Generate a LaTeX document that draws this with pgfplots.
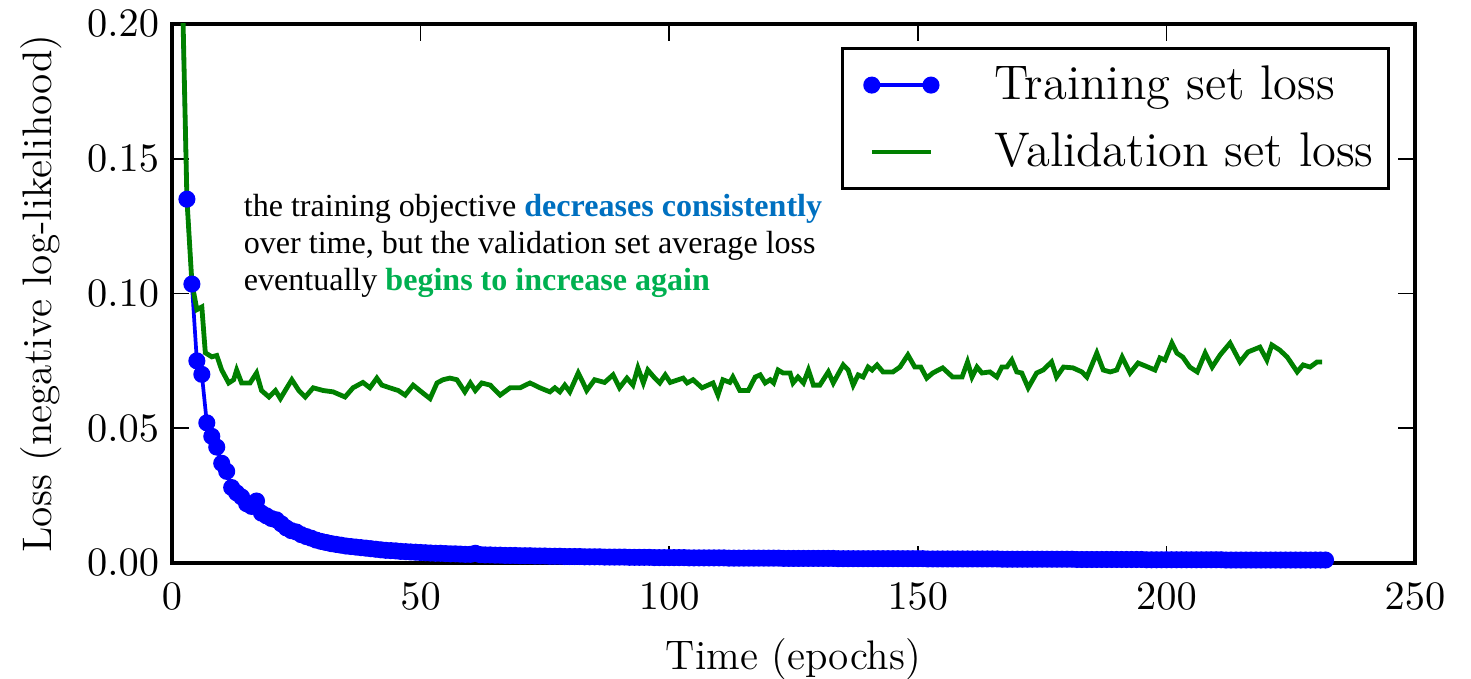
\documentclass[border=0pt]{standalone}
\usepackage{fontspec}
\usepackage{pgfplots}
\pgfplotsset{compat=1.18}
\newfontfamily\timesfont{Liberation Serif}
\definecolor{mplblue}{rgb}{0,0,1}
\definecolor{mplgreen}{rgb}{0,0.5,0}
\definecolor{annblue}{RGB}{0,112,192}
\definecolor{anngreen}{RGB}{0,176,80}
\pgfplotsset{
  trainleg/.style={legend image code/.code={\path (0bp,0bp) (35.8bp,0bp); \draw[##1, mark repeat=1, mark phase=1] plot coordinates {(5.3bp,0bp) (21.3bp,0bp)};}},
  valleg/.style={legend image code/.code={\path (0bp,0bp) (35.8bp,0bp); \draw[##1] (5.3bp,0bp) -- (21.3bp,0bp);}},
}
\begin{document}
\begin{tikzpicture}[x=1bp,y=1bp]
\useasboundingbox (-46.49,-31.35) rectangle (351.08,152.16);
\begin{axis}[
  at={(0,0)}, anchor=south west,
  scale only axis, width=335.95bp, height=145.68bp,
  xmin=0, xmax=250, ymin=0, ymax=0.2,
  xtick={0,50,100,150,200,250},
  ytick={0,0.05,0.1,0.15,0.2},
  scaled y ticks=false,
  yticklabel style={/pgf/number format/.cd,fixed,fixed zerofill,precision=2},
  tick align=inside,
  major tick length=4.5bp,
  every tick/.style={black, line width=0.45bp},
  axis line style={black, line width=1.1bp},
  tick label style={font=\fontsize{11}{13}\selectfont},
  xticklabel style={yshift=-2bp},
  label style={font=\fontsize{11.2}{13.4}\selectfont},
  xlabel style={yshift=-1bp},
  xlabel={Time (epochs)},
  ylabel={Loss (negative log-likelihood)},
  legend style={at={(0.98,0.957)}, anchor=north east, draw=black, line width=0.9bp,
    font=\fontsize{13.2}{15.8}\selectfont, inner xsep=2bp, inner ysep=2.5bp,
    row sep=3.5bp, cells={anchor=west}},
  legend cell align=left,
]
\addplot[mplblue, line width=1.0bp, mark=*, mark size=1.8bp,
  mark options={solid, fill=mplblue, draw=mplblue}, trainleg]
  table[row sep=\\] {
x y\\
1 0.35\\ 2 0.216\\ 3 0.135\\ 4 0.1035\\ 5 0.075\\ 6 0.070\\ 7 0.052\\ 8 0.047\\ 9 0.043\\ 10 0.037\\
11 0.034\\ 12 0.028\\ 13 0.026\\ 14 0.0245\\ 15 0.022\\ 16 0.021\\ 17 0.023\\ 18 0.0185\\ 19 0.0175\\ 20 0.0165\\
21 0.016\\ 22 0.0145\\ 23 0.013\\ 24 0.012\\ 25 0.0115\\ 26 0.0105\\ 27 0.0098\\ 28 0.0092\\ 29 0.0085\\ 30 0.0080\\
31 0.0076\\ 32 0.0072\\ 33 0.0069\\ 34 0.0066\\ 35 0.0063\\ 36 0.0061\\ 37 0.0059\\ 38 0.0057\\ 39 0.0055\\ 40 0.0053\\
41 0.0051\\ 42 0.0049\\ 43 0.0047\\ 44 0.0046\\ 45 0.0045\\ 46 0.0043\\ 47 0.0042\\ 48 0.0041\\ 49 0.0040\\ 50 0.0039\\
51 0.0038\\ 52 0.0037\\ 53 0.0036\\ 54 0.0036\\ 55 0.0035\\ 56 0.0034\\ 57 0.0034\\ 58 0.0033\\ 59 0.0032\\ 60 0.0032\\
61 0.0036\\ 62 0.0031\\ 63 0.0030\\ 64 0.0030\\ 65 0.0029\\ 66 0.0029\\ 67 0.0028\\ 68 0.0028\\ 69 0.0028\\ 70 0.0027\\
71 0.0027\\ 72 0.0027\\ 73 0.0026\\ 74 0.0026\\ 75 0.0026\\ 76 0.0025\\ 77 0.0025\\ 78 0.0025\\ 79 0.0024\\ 80 0.0024\\
81 0.0024\\ 82 0.0024\\ 83 0.0023\\ 84 0.0023\\ 85 0.0023\\ 86 0.0023\\ 87 0.0022\\ 88 0.0022\\ 89 0.0022\\ 90 0.0022\\
91 0.0022\\ 92 0.0021\\ 93 0.0021\\ 94 0.0021\\ 95 0.0021\\ 96 0.0021\\ 97 0.0020\\ 98 0.0020\\ 99 0.0020\\ 100 0.0020\\
101 0.0020\\ 102 0.0020\\ 103 0.0020\\ 104 0.0019\\ 105 0.0019\\ 106 0.0019\\ 107 0.0019\\ 108 0.0019\\ 109 0.0019\\ 110 0.0019\\
111 0.0019\\ 112 0.0018\\ 113 0.0018\\ 114 0.0018\\ 115 0.0018\\ 116 0.0018\\ 117 0.0018\\ 118 0.0018\\ 119 0.0018\\ 120 0.0018\\
121 0.0018\\ 122 0.0018\\ 123 0.0017\\ 124 0.0017\\ 125 0.0017\\ 126 0.0017\\ 127 0.0017\\ 128 0.0017\\ 129 0.0017\\ 130 0.0017\\
131 0.0017\\ 132 0.0017\\ 133 0.0017\\ 134 0.0016\\ 135 0.0016\\ 136 0.0016\\ 137 0.0016\\ 138 0.0016\\ 139 0.0016\\ 140 0.0016\\
141 0.0016\\ 142 0.0016\\ 143 0.0016\\ 144 0.0016\\ 145 0.0016\\ 146 0.0016\\ 147 0.0016\\ 148 0.0016\\ 149 0.0016\\ 150 0.0016\\
151 0.0016\\ 152 0.0015\\ 153 0.0015\\ 154 0.0015\\ 155 0.0015\\ 156 0.0015\\ 157 0.0015\\ 158 0.0015\\ 159 0.0015\\ 160 0.0015\\
161 0.0015\\ 162 0.0015\\ 163 0.0015\\ 164 0.0015\\ 165 0.0015\\ 166 0.0015\\ 167 0.0014\\ 168 0.0014\\ 169 0.0014\\ 170 0.0014\\
171 0.0014\\ 172 0.0014\\ 173 0.0014\\ 174 0.0014\\ 175 0.0014\\ 176 0.0014\\ 177 0.0014\\ 178 0.0014\\ 179 0.0014\\ 180 0.0014\\
181 0.0014\\ 182 0.0013\\ 183 0.0013\\ 184 0.0013\\ 185 0.0013\\ 186 0.0013\\ 187 0.0013\\ 188 0.0013\\ 189 0.0013\\ 190 0.0013\\
191 0.0013\\ 192 0.0013\\ 193 0.0013\\ 194 0.0013\\ 195 0.0013\\ 196 0.0012\\ 197 0.0012\\ 198 0.0012\\ 199 0.0012\\ 200 0.0012\\
201 0.0012\\ 202 0.0012\\ 203 0.0012\\ 204 0.0012\\ 205 0.0012\\ 206 0.0012\\ 207 0.0012\\ 208 0.0012\\ 209 0.0012\\ 210 0.0012\\
211 0.0012\\ 212 0.0011\\ 213 0.0011\\ 214 0.0011\\ 215 0.0011\\ 216 0.0011\\ 217 0.0011\\ 218 0.0011\\ 219 0.0011\\ 220 0.0011\\
221 0.0011\\ 222 0.0011\\ 223 0.0011\\ 224 0.0011\\ 225 0.0011\\ 226 0.0011\\ 227 0.0011\\ 228 0.0011\\ 229 0.0011\\ 230 0.0011\\
231 0.0011\\ 232 0.0011\\
};
\addlegendentry{Training set loss}
\addplot[mplgreen, line width=1.3bp, mark=none, valleg]
  coordinates {
(1,0.33)(2,0.22)(3,0.135)(4,0.104)(5,0.094)(6,0.095)(6.7,0.078)(8,0.0765)(9,0.077)(10,0.0716)
(11.4,0.0668)(12.4,0.068)(13,0.0716)(14,0.0668)(15.7,0.0668)(17,0.0705)(18,0.064)(19.5,0.0616)(20.8,0.064)(21.8,0.061)
(23.1,0.065)(24.1,0.068)(25.5,0.064)(26.8,0.0616)(28.4,0.065)(30.4,0.064)(32.4,0.0635)(34.8,0.0616)(36.4,0.065)(38.4,0.067)
(39.8,0.065)(41.2,0.0686)(42.2,0.066)(43.8,0.065)(45.5,0.064)(46.9,0.0623)(48.5,0.066)(50.5,0.063)(51.9,0.061)(53.3,0.0668)
(54.5,0.068)(55.9,0.0686)(57.3,0.068)(58.9,0.0635)(60,0.0668)(61,0.064)(62.3,0.0668)(64,0.066)(66,0.0623)(68,0.065)
(70,0.065)(72,0.0668)(74,0.065)(76,0.0635)(77,0.065)(78,0.0635)(79,0.066)(80,0.0635)(81.7,0.0705)(82.7,0.0668)
(83.4,0.064)(85,0.068)(87,0.067)(88.7,0.0698)(90,0.065)(91.5,0.0686)(92.7,0.066)(93.7,0.0724)(94.8,0.0668)(95.7,0.0716)
(97.1,0.0686)(98.1,0.0668)(99.2,0.0698)(100.2,0.067)(102.8,0.0686)(103.6,0.0668)(104.8,0.068)(106.6,0.065)(108.8,0.0668)(109.8,0.0623)
(110.8,0.068)(112.2,0.067)(112.8,0.069)(114.2,0.064)(115.9,0.064)(117.3,0.069)(118.3,0.0698)(119.3,0.0668)(120.3,0.068)(121,0.0668)
(121.9,0.0716)(122.9,0.0705)(124.3,0.0705)(124.9,0.0668)(125.9,0.069)(127,0.0668)(128,0.0716)(129,0.066)(130.3,0.066)(132,0.0709)
(133,0.0668)(135,0.0735)(136,0.0716)(137,0.066)(138,0.0698)(139,0.069)(140,0.0727)(140.8,0.0716)(141.8,0.0735)(143,0.0709)
(145,0.0709)(146.4,0.0727)(148,0.0772)(149.4,0.0727)(150.6,0.0727)(151.8,0.0686)(153,0.0705)(155,0.0724)(157,0.069)(158.9,0.069)
(160,0.0746)(160.9,0.069)(161.9,0.0727)(162.9,0.0705)(164.5,0.0709)(165.9,0.069)(166.9,0.0727)(167.9,0.0727)(168.9,0.0753)(169.9,0.0709)
(170.9,0.0705)(172.2,0.065)(173.9,0.0705)(175.2,0.0716)(176.9,0.0746)(177.9,0.069)(179.3,0.0727)(181.2,0.0724)(183,0.0709)(184,0.069)
(186,0.0779)(187.3,0.0716)(188.7,0.0709)(190,0.0716)(191.1,0.0764)(192.7,0.0705)(194.3,0.0742)(196.3,0.0727)(197.7,0.0716)(198.7,0.0761)
(199.7,0.0753)(201.1,0.0816)(202.1,0.0779)(203.3,0.0764)(204.7,0.0727)(206.2,0.0709)(207.8,0.0779)(209.2,0.0727)(210.8,0.0772)(212.8,0.0816)
(214.8,0.0746)(216.4,0.0783)(218.8,0.0801)(220.2,0.0753)(221.2,0.0809)(222.8,0.079)(224.3,0.0764)(226.3,0.0709)(227.5,0.0735)(228.9,0.0727)
(230.3,0.0746)(231.3,0.0746)
};
\addlegendentry{Validation set loss}
\node[anchor=base west, align=left, inner sep=0pt,
  font=\timesfont\fontsize{8.7}{10.1}\selectfont] at (axis cs:14.3,0.101)
  {the training objective \textcolor{annblue}{\bfseries decreases consistently}\\
   over time, but the validation set average loss\\
   eventually \textcolor{anngreen}{\bfseries begins to increase again}};
\end{axis}
\end{tikzpicture}
\end{document}
